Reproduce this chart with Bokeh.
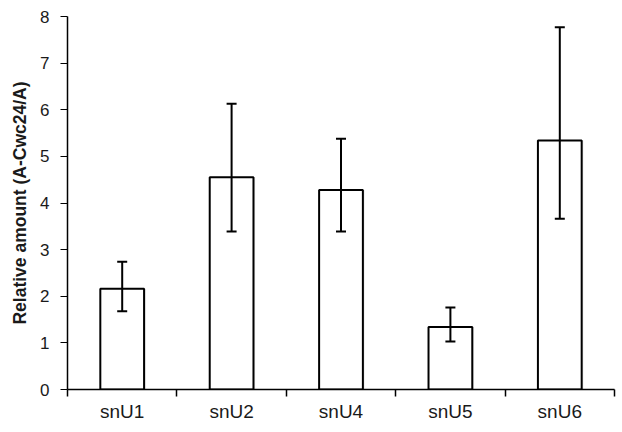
from bokeh.plotting import figure
from bokeh.models import (ColumnDataSource, Range1d, Whisker, FixedTicker, TeeHead)
from bokeh.embed import file_html
from bokeh.resources import INLINE

categories = ["snU1", "snU2", "snU4", "snU5", "snU6"]
values = [2.16, 4.55, 4.28, 1.34, 5.34]
err_upper = [2.74, 6.13, 5.38, 1.76, 7.77]
err_lower = [1.68, 3.39, 3.39, 1.03, 3.66]
y_ticks = [0, 1, 2, 3, 4, 5, 6, 7, 8]
y_title = "Relative amount (A-Cwc24/A)"

n = len(categories)
centers = [i + 0.5 for i in range(n)]
bounds = [float(i) for i in range(n + 1)]
src = ColumnDataSource(dict(x=centers, xs=[c + 0.015 for c in centers], cat=categories,
                            val=values, upper=err_upper, lower=err_lower))

p = figure(x_range=Range1d(0, n), y_range=Range1d(0, 8), width=622, height=432,
           output_backend="svg", toolbar_location=None,
           min_border_left=67, min_border_right=8, min_border_top=16, min_border_bottom=43)
p.outline_line_color = None
p.xgrid.grid_line_color = None
p.ygrid.grid_line_color = None

# faint shadow
p.vbar(x="xs", top="val", width=0.4, source=src, fill_color="#e6e6e6", line_color=None)
p.vbar(x="x", top="val", width=0.4, source=src, fill_color="white",
       line_color="black", line_width=2)

w = Whisker(base="x", upper="upper", lower="lower", source=src, level="overlay",
            line_color="black", line_width=2,
            upper_head=TeeHead(size=10, line_color="black", line_width=2),
            lower_head=TeeHead(size=10, line_color="black", line_width=2))
p.add_layout(w)

font = "Liberation Sans"
tcol = "#1a1a1a"
p.yaxis.ticker = FixedTicker(ticks=y_ticks)
p.yaxis.minor_tick_line_color = None
p.yaxis.major_tick_out = 7
p.yaxis.major_tick_in = 0
p.yaxis.major_label_text_font = font
p.yaxis.major_label_text_font_size = "17px"
p.yaxis.major_label_text_color = tcol
p.yaxis.major_label_standoff = 11
p.yaxis.axis_label = y_title
p.yaxis.axis_label_text_font = font
p.yaxis.axis_label_text_font_size = "17.5px"
p.yaxis.axis_label_text_font_style = "bold"
p.yaxis.axis_label_text_color = tcol
p.yaxis.axis_label_standoff = 7
p.yaxis.axis_line_width = 1.5

xa = p.xaxis[0]
xa.ticker = FixedTicker(ticks=centers, minor_ticks=bounds)
xa.major_label_overrides = {c: lab for c, lab in zip(centers, categories)}
xa.major_tick_line_color = None
xa.major_tick_out = 0
xa.major_tick_in = 0
xa.minor_tick_out = 7
xa.minor_tick_in = 0
xa.minor_tick_line_width = 1.5
xa.minor_tick_line_color = "black"
xa.major_label_text_font = font
xa.major_label_text_font_size = "19px"
xa.major_label_text_color = tcol
xa.major_label_standoff = 4
xa.axis_line_width = 1.5

open("out.html", "w").write(file_html(p, INLINE))
